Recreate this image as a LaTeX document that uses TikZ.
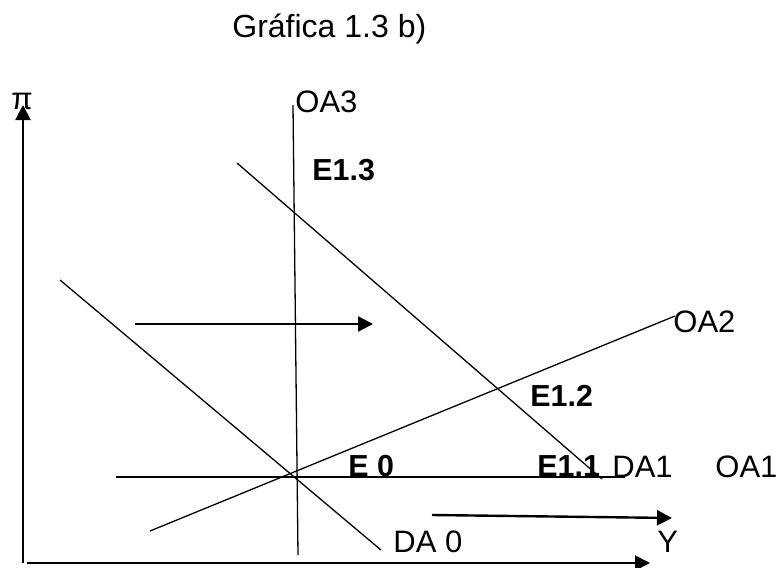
\documentclass[tikz,border=0pt]{standalone}
\usepackage{fontspec}
\setmainfont{Liberation Sans}
\usetikzlibrary{arrows.meta}
\tikzset{
  axisArrow/.style={-{Triangle[length=7.5pt, width=7.5pt]}, line width=1pt},
  shiftArrow/.style={-{Triangle[length=7.5pt, width=7.5pt]}, line width=1.2pt},
  curveLine/.style={line width=0.65pt},
  lbl/.style={anchor=base west, inner sep=0pt, font=\fontsize{15.5}{18}\selectfont},
  boldLbl/.style={anchor=base west, inner sep=0pt, font=\fontsize{15.2}{18}\selectfont\bfseries}
}

\begin{document}
\begin{tikzpicture}[x=0.5pt,y=-0.5pt]
  \useasboundingbox (0,0) rectangle (778,568);

  \node[lbl, font=\fontsize{16}{19}\selectfont] (title) at (232,37) {Gráfica 1.3 b)};

  % axes
  \coordinate (O) at (23,563);
  \coordinate (yTop) at (23,105);
  \coordinate (xO) at (27,563);
  \coordinate (xEnd) at (650,563);
  \draw[axisArrow] (O) -- (yTop);
  \draw[axisArrow] (xO) -- (xEnd);
  \node[lbl] (pi) at (11,109) {π};
  \node[lbl] (yLbl) at (657,552) {Y};

  % supply and demand curves
  \coordinate (oa3Top) at (293,105);
  \coordinate (oa3Bot) at (298,555);
  \coordinate (oa1L) at (116,477);
  \coordinate (oa1R) at (625,477);
  \coordinate (oa2L) at (150,531);
  \coordinate (oa2R) at (675,316);
  \coordinate (da0Top) at (60,280);
  \coordinate (da0Bot) at (381,550);
  \coordinate (da1Top) at (237,163);
  \coordinate (da1Bot) at (602,479);

  \draw[curveLine] (oa3Top) -- (oa3Bot);
  \draw[curveLine] (oa1L) -- (oa1R);
  \draw[curveLine] (oa2L) -- (oa2R);
  \draw[curveLine] (da0Top) -- (da0Bot);
  \draw[curveLine] (da1Top) -- (da1Bot);

  % shifts
  \coordinate (s1a) at (135,324);
  \coordinate (s1b) at (373,324);
  \coordinate (s2a) at (432,515);
  \coordinate (s2b) at (672,518);
  \draw[shiftArrow] (s1a) -- (s1b);
  \draw[shiftArrow] (s2a) -- (s2b);

  % labels
  \node[lbl] (oa3) at (295,112) {OA3};
  \node[lbl] (oa2) at (673,332) {OA2};
  \node[lbl] (da1) at (612,477) {DA1};
  \node[lbl] (oa1) at (715,477) {OA1};
  \node[lbl] (da0) at (393,552) {DA 0};

  \node[boldLbl] (e13) at (312,180) {E1.3};
  \node[boldLbl] (e12) at (530,406) {E1.2};
  \node[boldLbl] (e0) at (348,476) {E 0};
  \node[boldLbl] (e11) at (537,476) {E1.1};
\end{tikzpicture}
\end{document}
